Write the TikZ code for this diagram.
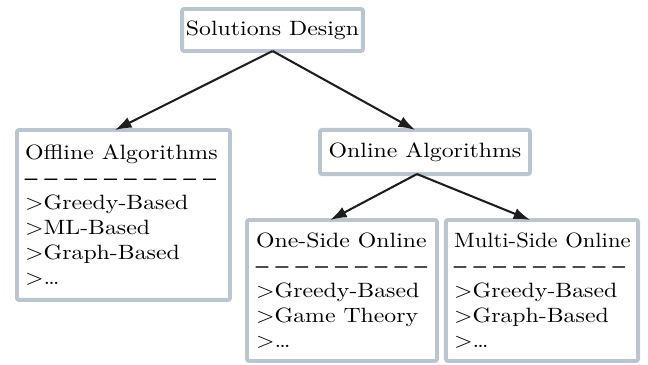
\documentclass[tikz,border=0pt]{standalone}
\usepackage{graphicx}
\usetikzlibrary{arrows.meta}
\definecolor{myframe}{RGB}{186,197,207}
\definecolor{myarrow}{RGB}{30,30,30}
\font\dashfont="[lmroman10-regular]:mapping=tex-text;embolden=4" at 10pt

\begin{document}
\begin{tikzpicture}[x=0.4201pt, y=-0.4831pt, xscale=1.15, transform shape, font=\normalsize,
  box/.style={draw=myframe, line width=1.9pt, rounded corners=1pt, fill=white, outer sep=0pt},
  link/.style={draw=myarrow, line width=1pt, -{Latex[length=8pt,width=5.5pt]}}]

\useasboundingbox (0,0) rectangle (648,365);

% Solutions Design (root)
\node[box, align=center, inner xsep=0pt, minimum width=76pt, minimum height=20.3pt] 
(design) at (272.5,30) {Solutions Design};

% Offline branch
\node[box, align=left, inner xsep=3.4pt, text width=82.7pt, minimum height=82.1pt] 
(offline) at (123.5,215) {Offline Algorithms\\ {\dashfont -- -- -- -- -- -- -- -- -- --}\\ >Greedy-Based\\ >ML-Based\\ >Graph-Based\\ >\dots};

% Online branch
\node[box, align=center, inner xsep=0pt, minimum width=88.2pt, minimum height=21.3pt] 
(online) at (425,152) {Online Algorithms};

% One-side online
\node[box, align=left, inner xsep=3.8pt, text width=72.2pt, minimum height=68.1pt] 
(oneside) at (342,290.5) {One-Side Online\\ {\dashfont -- -- -- -- -- -- -- -- --}\\ >Greedy-Based\\ >Game Theory\\ >\dots};

% Multi-side online
\node[box, align=left, inner xsep=3.4pt, text width=73.9pt, minimum height=68.1pt] 
(multiside) at (542,290.5) {\scalebox{0.95}[1]{Multi-Side Online}\\ {\dashfont -- -- -- -- -- -- -- -- --}\\ >Greedy-Based\\ >Graph-Based\\ >\dots};

% arrows
\draw[link] (design.south) -- ([xshift=-3.6pt]offline.north);
\draw[link] (design.south) -- ([xshift=-4.2pt]online.north);
\draw[link] ([xshift=-3.4pt]online.south) -- ([xshift=-5pt]oneside.north);
\draw[link] ([xshift=-3.4pt]online.south) -- ([xshift=-5pt]multiside.north);

\end{tikzpicture}
\end{document}
